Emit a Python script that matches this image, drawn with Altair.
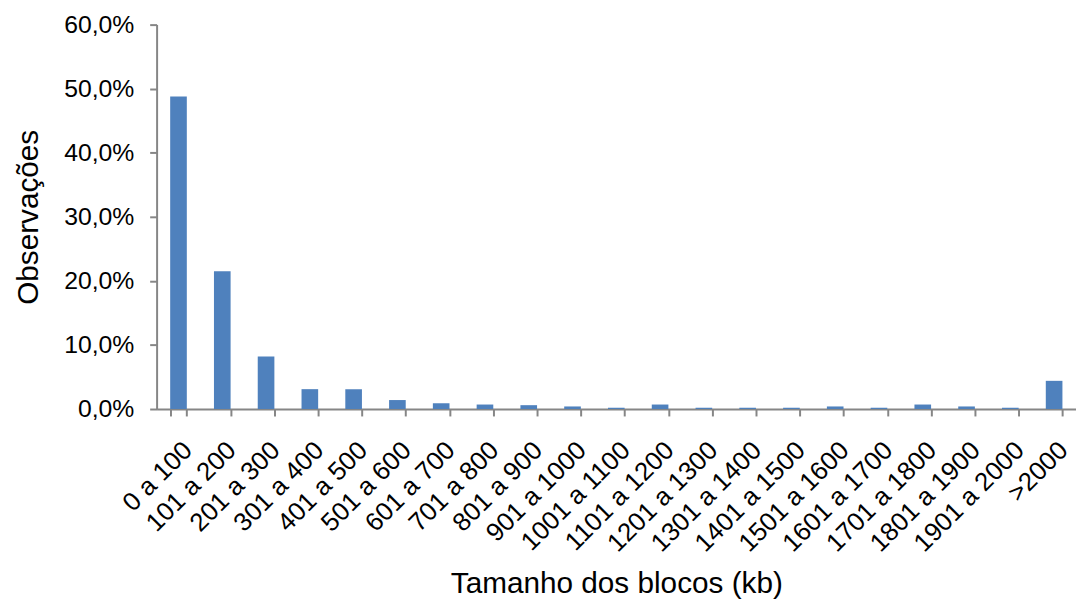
import altair as alt
import pandas as pd

categories = ["0 a 100", "101 a 200", "201 a 300", "301 a 400", "401 a 500",
              "501 a 600", "601 a 700", "701 a 800", "801 a 900", "901 a 1000",
              "1001 a 1100", "1101 a 1200", "1201 a 1300", "1301 a 1400",
              "1401 a 1500", "1501 a 1600", "1601 a 1700", "1701 a 1800",
              "1801 a 1900", "1901 a 2000", ">2000"]
values = [0.488, 0.215, 0.082, 0.031, 0.031, 0.014, 0.009, 0.007, 0.006, 0.004,
          0.002, 0.007, 0.002, 0.002, 0.002, 0.004, 0.002, 0.007, 0.004, 0.002,
          0.044]
y_ticks = [0, 0.1, 0.2, 0.3, 0.4, 0.5, 0.6]

df = pd.DataFrame({"cat": categories, "val": values})

FONT = "Liberation Sans"
AXIS_COLOR = "#868686"

chart = alt.Chart(df).mark_bar(color="#4F81BD").encode(
    x=alt.X("cat:N", sort=categories,
            scale=alt.Scale(paddingInner=0.62, paddingOuter=0.31),
            axis=alt.Axis(title="Tamanho dos blocos (kb)", labelAngle=-45,
                          tickBand="extent", tickSize=7, labelPadding=21,
                          titleY=176, titleBaseline="middle",
                          labelFontSize=26, titleFontSize=30)),
    y=alt.Y("val:Q", scale=alt.Scale(domain=[0, 0.6], nice=False),
            axis=alt.Axis(title="Observações", values=y_ticks,
                          labelExpr="replace(format(datum.value, '.1%'), '.', ',')",
                          tickSize=7, labelPadding=16,
                          titleX=-129, titleY=194, titleAngle=-90,
                          titleAlign="center", titleBaseline="middle",
                          labelFontSize=25, titleFontSize=30)),
).properties(
    width=928, height=388,
    padding={"left": 6, "top": 2, "right": 0, "bottom": 0},
).configure_axis(
    grid=False,
    domainColor=AXIS_COLOR, tickColor=AXIS_COLOR, domainWidth=2, tickWidth=2,
    labelColor="#000000", titleColor="#000000",
    labelFont=FONT, titleFont=FONT, titleFontWeight="normal",
).configure_view(stroke=None)

chart.save("out.html", embed_options={"renderer": "svg", "actions": False})
